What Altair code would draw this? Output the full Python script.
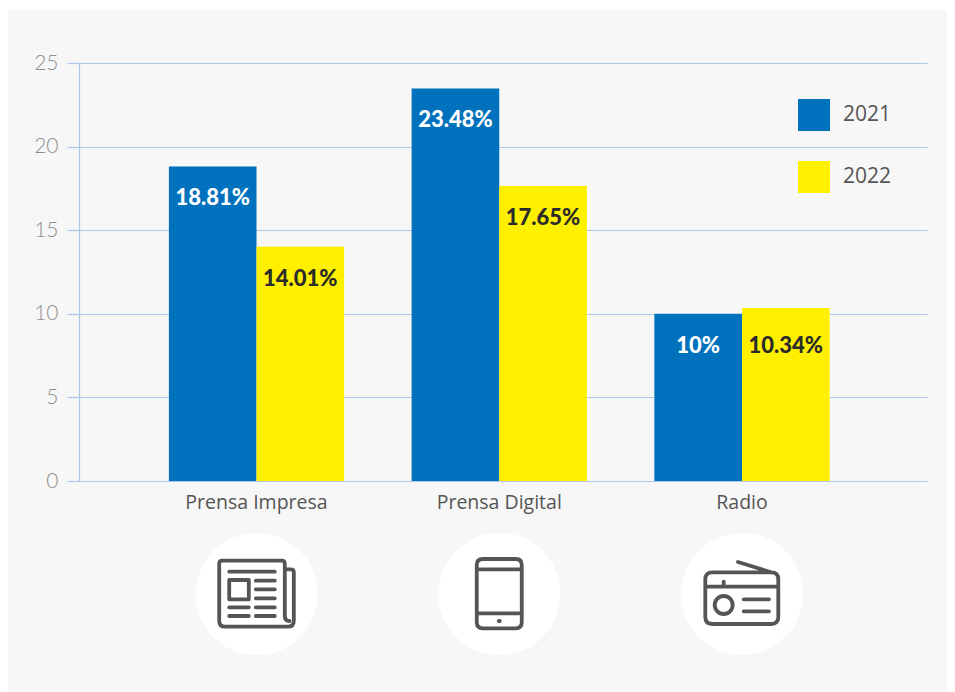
import altair as alt
import pandas as pd

categories = ["Prensa Impresa", "Prensa Digital", "Radio"]
years = ["2021", "2022"]
values_2021 = [18.81, 23.48, 10.0]
values_2022 = [14.01, 17.65, 10.34]
labels_2021 = ["18.81%", "23.48%", "10%"]
labels_2022 = ["14.01%", "17.65%", "10.34%"]
y_ticks = [0, 5, 10, 15, 20, 25]
colors = ["#0071BC", "#FFF000"]

rows = []
for c, v1, v2, l1, l2 in zip(categories, values_2021, values_2022, labels_2021, labels_2022):
    rows.append({"cat": c, "year": "2021", "value": v1, "label": l1})
    rows.append({"cat": c, "year": "2022", "value": v2, "label": l2})
df = pd.DataFrame(rows)

FONT = "Lato"
TEXT_FONT = "Open Sans"
ICON = "#555555"
PANEL = "#F7F7F7"
LINE = "#AFC5EA"

NEWS = ("M28.3 -24.7 L34.3 -24.7 Q37.3 -24.7 37.3 -21.7 L37.3 26.7 Q37.3 32.7 31.3 32.7 "
        "L-31.3 32.7 Q-37.3 32.7 -37.3 26.7 L-37.3 -30.3 Q-37.3 -33.3 -34.3 -33.3 L25.3 -33.3 "
        "Q28.3 -33.3 28.3 -30.3 L28.3 22 Q28.3 27 33 27 "
        "M-27.3 -22.3 L18.3 -22.3 "
        "M-27.3 -14 L-7.7 -14 L-7.7 5.3 L-27.3 5.3 Z "
        "M-0.7 -13.3 L18.3 -13.3 M-0.7 -4.7 L18.3 -4.7 M-0.7 4.3 L18.3 4.3 "
        "M-0.7 13.3 L18.3 13.3 M-0.7 22 L18.3 22 "
        "M-27.3 13.3 L-7.7 13.3 M-27.3 22 L-7.7 22")
PHONE = ("M-16.5 -35 L16.5 -35 Q22.5 -35 22.5 -29 L22.5 28.3 Q22.5 34.3 16.5 34.3 "
         "L-16.5 34.3 Q-22.5 34.3 -22.5 28.3 L-22.5 -29 Q-22.5 -35 -16.5 -35 Z "
         "M-22.5 -24.7 L22.5 -24.7 M-22.5 19.3 L22.5 19.3 "
         "M-0.5 27 L0.5 27")
RADIO = ("M-29.7 -21.7 L29.3 -21.7 Q36.3 -21.7 36.3 -14.7 L36.3 23 Q36.3 30 29.3 30 "
         "L-29.7 30 Q-36.7 30 -36.7 23 L-36.7 -14.7 Q-36.7 -21.7 -29.7 -21.7 Z "
         "M-36.7 -7.3 L36.3 -7.3 M-4 -32 L29.3 -21.7 M-18.3 -12.3 L-18.3 -7.3 "
         "M-27.3 11 A9 9 0 1 0 -9.3 11 A9 9 0 1 0 -27.3 11 Z "
         "M1.7 5.3 L27 5.3 M1.7 17.3 L27 17.3")
icon_paths = [NEWS, PHONE, RADIO]

x = alt.X(
    "cat:N",
    sort=categories,
    title=None,
    scale=alt.Scale(paddingInner=0.278, paddingOuter=0.3857, align=0.48),
    axis=alt.Axis(
        domain=False, ticks=False, labelAngle=0, labelFont=TEXT_FONT, labelFontSize=19.5,
        labelColor="#555555", labelPadding=12, grid=False,
    ),
)
y = alt.Y(
    "value:Q",
    title=None,
    scale=alt.Scale(domain=[0, 25], nice=False),
    axis=alt.Axis(
        values=y_ticks, grid=True, gridColor=LINE, gridWidth=1.2, domainColor=LINE,
        domainWidth=1.2, tickColor=LINE, tickSize=12, tickWidth=1.2, labelPadding=9,
        labelFont=FONT, labelFontSize=21, labelFontWeight=300, labelColor="#8F8F8F",
    ),
)
xoff = alt.XOffset("year:N", sort=years, scale=alt.Scale(paddingInner=0, paddingOuter=0))

top_gap = alt.Chart(pd.DataFrame({"a": [0]})).mark_rect(color="#FFFFFF").encode(
    x=alt.value(-71), x2=alt.value(868), y=alt.value(-55), y2=alt.value(-53)
)

bars = alt.Chart(df).mark_bar().encode(
    x=x, y=y, xOffset=xoff,
    color=alt.Color(
        "year:N", sort=years,
        scale=alt.Scale(domain=years, range=colors),
        legend=alt.Legend(
            title=None, orient="none", legendX=719, legendY=36, padding=0,
            symbolType="square", symbolSize=1024, symbolStrokeWidth=0, symbolOpacity=1,
            rowPadding=30, labelOffset=13, labelFont=TEXT_FONT, labelFontSize=21,
            labelColor="#555555",
        ),
    ),
)

def value_text(test, dy):
    return alt.Chart(df).transform_filter(test).mark_text(
        baseline="middle", dy=dy, font=FONT, fontSize=22, fontWeight=900
    ).encode(
        x=x, y=y, xOffset=xoff, text="label:N",
        color=alt.condition("datum.year == '2021'", alt.value("#FFFFFF"), alt.value("#2B2B2B")),
    )

texts = value_text("datum.label != '10.34%'", 32)
texts_radio = value_text("datum.label == '10.34%'", 38)

discs = alt.Chart(pd.DataFrame({"cat": categories})).mark_point(
    shape="circle", filled=True, color="#FFFFFF", opacity=1, size=14884
).encode(x=x, y=alt.value(531))

icons = [
    alt.Chart(pd.DataFrame({"cat": [c]})).mark_point(
        shape=p, filled=False, stroke=ICON, strokeWidth=3.8, strokeCap="round",
        strokeJoin="round", opacity=1, size=4
    ).encode(x=x, y=alt.value(531))
    for c, p in zip(categories, icon_paths)
]

chart = alt.layer(bars, texts, texts_radio, discs, *icons, top_gap).properties(
    width=848, height=418,
    background=PANEL,
    padding={"left": 71, "top": 55, "right": 20, "bottom": 211},
    autosize=alt.AutoSizeParams(type="none"),
).configure_view(stroke=None)

chart.save("out.html", embed_options={"renderer": "svg", "actions": False})
